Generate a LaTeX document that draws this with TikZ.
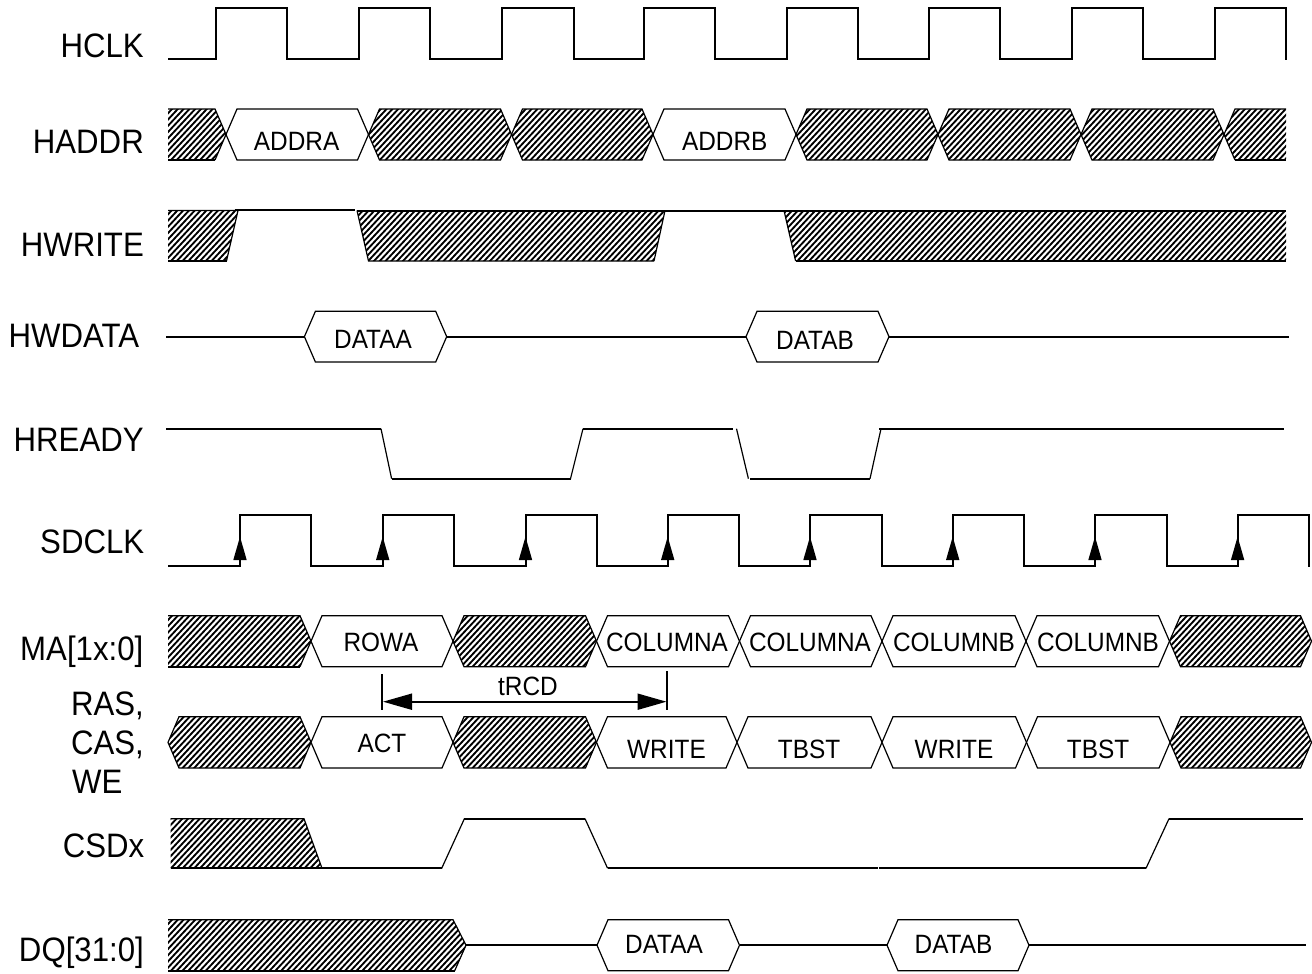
\documentclass[tikz,border=0pt]{standalone}
\usepackage{fontspec}
\setmainfont{Liberation Sans}[FakeStretch=0.92]
\usetikzlibrary{arrows.meta}
\tikzset{
  sigline/.style={line width=2pt,line join=miter,line cap=butt},
  edgeline/.style={line width=1.2pt,line join=miter},
  hatchstroke/.style={line width=1.85pt,line cap=butt},
  siglabel/.style={font=\fontsize{33.9}{36}\selectfont,anchor=base east,inner sep=0pt},
  siglabelw/.style={font=\fontsize{33.9}{36}\selectfont,anchor=base west,inner sep=0pt},
  buslabel/.style={font=\fontsize{26.5}{28}\selectfont,anchor=base,inner sep=0pt},
  dimtip/.style={{Triangle[length=29pt,width=16pt]}-{Triangle[length=29pt,width=16pt]}}
}
% hatch lines clipped to a path: x0,x1,top,bottom,path
\newcommand\hatcharea[5]{%
  \begin{scope}
    \clip #5;
    \pgfmathtruncatemacro\hs{(#1-(#4-#3))/5.8-2}
    \pgfmathtruncatemacro\he{#2/5.8+2}
    \foreach \hn in {\hs,...,\he}
      \draw[hatchstroke] ({\hn*5.8},{#4+3}) -- ({\hn*5.8+(#4-#3+6)*0.93},{#3-3});
  \end{scope}}
% hexagon between two tips: x1,x2,top,bottom
\newcommand\hexval[4]{\draw[edgeline,fill=white] (#1,{(#3+#4)/2}) -- (#1+11,#3) -- (#2-11,#3) -- (#2,{(#3+#4)/2}) -- (#2-11,#4) -- (#1+11,#4) -- cycle;}
\newcommand\hexhatch[4]{\hatcharea{#1}{#2}{#3}{#4}{(#1,{(#3+#4)/2}) -- (#1+11,#3) -- (#2-11,#3) -- (#2,{(#3+#4)/2}) -- (#2-11,#4) -- (#1+11,#4) -- cycle}
 \draw[edgeline] (#1,{(#3+#4)/2}) -- (#1+11,#3) -- (#2-11,#3) -- (#2,{(#3+#4)/2}) -- (#2-11,#4) -- (#1+11,#4) -- cycle;}
\begin{document}
\begin{tikzpicture}[x=1pt,y=-1pt]
\useasboundingbox (0,0) rectangle (1312,974);

% HCLK
\draw[sigline] (168,58.7) -- (216,58.7) -- (216,7.7) -- (287,7.7) -- (287,58.7) -- (359,58.7) -- (359,7.7) -- (430,7.7) -- (430,58.7) -- (502,58.7) -- (502,7.7) -- (573.5,7.7) -- (573.5,58.7) -- (644,58.7) -- (644,7.7) -- (715.4,7.7) -- (715.4,58.7) -- (787,58.7) -- (787,7.7) -- (858,7.7) -- (858,58.7) -- (929,58.7) -- (929,7.7) -- (1000,7.7) -- (1000,58.7) -- (1072,58.7) -- (1072,7.7) -- (1143,7.7) -- (1143,58.7) -- (1215,58.7) -- (1215,7.7) -- (1286,7.7) -- (1286,59.7);
\node[siglabel] (lhclk) at (144,58) {HCLK};

% HADDR
\hatcharea{168}{226}{109}{160}{(168,109) -- (215,109) -- (226,134.5) -- (215,160) -- (168,160) -- cycle}
\draw[edgeline] (168,109) -- (215,109) -- (226,134.5) -- (215,160);
\draw[sigline] (168,160) -- (215,160);
\hexval{226}{368.5}{109}{160}
\hexhatch{368.5}{511.5}{109}{160}
\hexhatch{511.5}{653}{109}{160}
\hexval{653}{796}{109}{160}
\hexhatch{796}{938}{109}{160}
\hexhatch{938}{1081}{109}{160}
\hexhatch{1081}{1224}{109}{160}
\hatcharea{1224}{1286}{109}{160}{(1224,134.5) -- (1235,109) -- (1286,109) -- (1286,160) -- (1235,160) -- cycle}
\draw[edgeline] (1286,109) -- (1235,109) -- (1224,134.5) -- (1235,160);
\draw[sigline] (1235,160) -- (1286,160);
\node[siglabel] (lhaddr) at (144,153) {HADDR};
\node[buslabel] (taddra) at (296.6,150.5) {ADDRA};
\node[buslabel] (taddrb) at (724.7,150.5) {ADDRB};

% HWRITE
\hatcharea{168}{238}{210.5}{261}{(168,210.5) -- (238,210.5) -- (226.5,261) -- (168,261) -- cycle}
\draw[edgeline] (168,210.5) -- (238,210.5) -- (226.5,261);
\draw[sigline] (168,261) -- (226.5,261);
\draw[sigline] (234.5,210.3) -- (355,210.3);
\hatcharea{357}{665}{210.5}{261}{(357,210.5) -- (665,210.5) -- (654,261) -- (368.5,261) -- cycle}
\draw[edgeline] (654,261) -- (665,210.5);
\draw[edgeline] (357,210.5) -- (368.5,261) -- (654,261);
\draw[sigline] (357,210.8) -- (784,210.8);
\hatcharea{784}{1286}{210.5}{261}{(784,210.5) -- (1286,210.5) -- (1286,261) -- (795.6,261) -- cycle}
\draw[edgeline] (784,210.5) -- (795.6,261);
\draw[sigline] (784,210.8) -- (1286,210.8);
\draw[sigline] (795.6,261) -- (1286,261);
\node[siglabel] (lhwrite) at (144,256) {HWRITE};

% HWDATA
\draw[sigline] (166.3,336.7) -- (304.4,336.7);
\hexval{304.4}{446.7}{311.3}{362}
\draw[sigline] (446.7,336.7) -- (746,336.7);
\hexval{746}{889}{311.3}{362}
\draw[sigline] (889,336.7) -- (1289,336.7);
\node[siglabelw] (lhwdata) at (8.4,347.7) {HWDATA};
\node[buslabel] (tdataa) at (373,348) {DATAA};
\node[buslabel] (tdatab) at (815,349.5) {DATAB};

% HREADY
\draw[sigline] (166.3,428.7) -- (381,428.7);
\draw[edgeline] (381,428.7) -- (391.6,478.7);
\draw[sigline] (391.6,478.7) -- (570.5,478.7);
\draw[edgeline] (570.5,478.7) -- (583,428.7);
\draw[sigline] (583,428.7) -- (733,428.7);
\draw[edgeline] (736.5,428.7) -- (748.4,478.7);
\draw[sigline] (750,478.7) -- (870,478.7);
\draw[edgeline] (870,478.7) -- (881,428.7);
\draw[sigline] (879,428.7) -- (1284,428.7);
\node[siglabelw] (lhready) at (13.5,451.7) {HREADY};

% SDCLK
\draw[sigline] (168,565.7) -- (240,565.7) -- (240,515) -- (311,515) -- (311,565.7) -- (382.7,565.7) -- (382.7,515) -- (454.3,515) -- (454.3,565.7) -- (525.5,565.7) -- (525.5,515) -- (597,515) -- (597,565.7) -- (667.7,565.7) -- (667.7,515) -- (739,515) -- (739,565.7) -- (810,565.7) -- (810,515) -- (881.7,515) -- (881.7,565.7) -- (952.7,565.7) -- (952.7,515) -- (1024,515) -- (1024,565.7) -- (1095,565.7) -- (1095,515) -- (1166.7,515) -- (1166.7,565.7) -- (1237.6,565.7) -- (1237.6,515) -- (1309.4,515) -- (1309.4,566.7);
\foreach \ex in {240,382.7,525.5,667.7,810,952.7,1095,1237.6}
  \fill (\ex,536.7) -- (\ex+6.7,560) -- (\ex-6.7,560) -- cycle;
\node[siglabel] (lsdclk) at (144.4,553) {SDCLK};

% MA
\hatcharea{168}{311}{615.7}{666.7}{(168,615.7) -- (300,615.7) -- (311,641.2) -- (300,666.7) -- (168,666.7) -- cycle}
\draw[edgeline] (168,615.7) -- (300,615.7) -- (311,641.2) -- (300,666.7);
\draw[sigline] (168,666.7) -- (300,666.7);
\hexval{311}{453}{615.7}{666.7}
\hexhatch{453}{596.5}{615.7}{666.7}
\hexval{596.5}{739.5}{615.7}{666.7}
\hexval{739.5}{882}{615.7}{666.7}
\hexval{882}{1026}{615.7}{666.7}
\hexval{1026}{1169.5}{615.7}{666.7}
\hexhatch{1169.5}{1311.5}{615.7}{666.7}
\node[siglabel] (lma) at (143.5,660) {MA[1x:0]};
\node[buslabel] (trowa) at (381,651.5) {ROWA};
\node[buslabel] (tcola) at (667,651.5) {COLUMNA};
\node[buslabel] (tcolb) at (810,651.5) {COLUMNA};
\node[buslabel] (tcolc) at (954,651.5) {COLUMNB};
\node[buslabel] (tcold) at (1098,651.5) {COLUMNB};

% RAS CAS WE
\hexhatch{168}{311}{716.7}{768}
\hexval{311}{453}{716.7}{768}
\hexhatch{453}{596.5}{716.7}{768}
\hexval{596.5}{737}{716.7}{768}
\hexval{737}{882}{716.7}{768}
\hexval{882}{1026.5}{716.7}{768}
\hexval{1026.5}{1170}{716.7}{768}
\hexhatch{1170}{1311.5}{716.7}{768}
\node[siglabel] (lras) at (144,715.7) {RAS,};
\node[siglabel] (lcas) at (144,754) {CAS,};
\node[siglabelw] (lwe) at (72,793) {WE};
\node[buslabel] (tact) at (382,752) {ACT};
\node[buslabel] (twrite) at (666.5,758.5) {WRITE};
\node[buslabel] (ttbst) at (809,758.5) {TBST};
\node[buslabel] (twritb) at (954,758.5) {WRITE};
\node[buslabel] (ttbsu) at (1098,758.5) {TBST};

% tRCD
\coordinate (rcdatop) at (382,674);
\coordinate (rcdabot) at (382,710);
\coordinate (rcdbtop) at (667,671);
\coordinate (rcdbbot) at (667,710);
\coordinate (rcdl) at (383,701.7);
\coordinate (rcdr) at (666.5,701.7);
\draw[sigline] (rcdatop) -- (rcdabot);
\draw[sigline] (rcdbtop) -- (rcdbbot);
\draw[sigline,dimtip] (rcdl) -- (rcdr);
\node[buslabel] (ttrcd) at (528,695.5) {tRCD};

% CSDx
\hatcharea{170.5}{322}{818.7}{868.3}{(170.5,818.7) -- (304,818.7) -- (322,868.3) -- (170.5,868.3) -- cycle}
\draw[edgeline] (170.5,818.7) -- (304,818.7) -- (322,868.3);
\draw[sigline] (170.5,868.3) -- (441.7,868.3);
\draw[edgeline] (441.7,868.3) -- (464.4,818.7);
\draw[sigline] (464.4,818.7) -- (585,818.7);
\draw[edgeline] (585,818.7) -- (607.6,868.3);
\draw[sigline] (607.6,868.3) -- (877.5,868.3);
\draw[sigline] (878.5,868.3) -- (1146,868.3);
\draw[edgeline] (1146,868.3) -- (1169,818.7);
\draw[sigline] (1169,818.7) -- (1303,818.7);
\node[siglabel] (lcsdx) at (144.5,857) {CSDx};

% DQ
\hatcharea{168}{466}{919.7}{970.7}{(168,919.7) -- (453,919.7) -- (466,945.2) -- (454.7,970.7) -- (168,970.7) -- cycle}
\draw[edgeline] (168,919.7) -- (453,919.7) -- (466,945.2) -- (454.7,970.7);
\draw[sigline] (168,970.7) -- (454.7,970.7);
\draw[sigline] (466,945.2) -- (597,945.2);
\hexval{597}{739.5}{919.7}{970.7}
\draw[sigline] (739.5,945.2) -- (887,945.2);
\hexval{887}{1029}{919.7}{970.7}
\draw[sigline] (1029,945.2) -- (1306,945.2);
\node[siglabel] (ldq) at (144,961) {DQ[31:0]};
\node[buslabel] (tdqa) at (664,953.5) {DATAA};
\node[buslabel] (tdqb) at (953.5,953.5) {DATAB};
\end{tikzpicture}
\end{document}
